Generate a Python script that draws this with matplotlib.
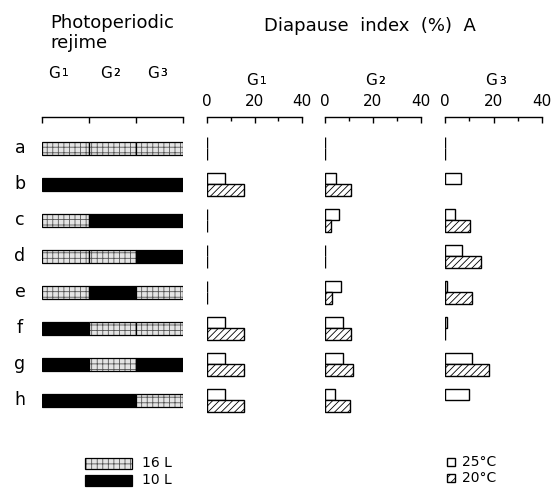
import numpy as np
import matplotlib
matplotlib.use("Agg")
import matplotlib.pyplot as plt
from matplotlib.patches import Rectangle

plt.rcParams['font.family'] = ['DejaVu Sans']
plt.rcParams['hatch.linewidth'] = 0.6

# ---------------- data ----------------
rows = ['a', 'b', 'c', 'd', 'e', 'f', 'g', 'h']
generations = ['1', '2', '3']
# photoperiod per generation: 'L' = 16L, 'D' = 10L
regime = [['L', 'L', 'L'],
          ['D', 'D', 'D'],
          ['L', 'D', 'D'],
          ['L', 'L', 'D'],
          ['L', 'D', 'L'],
          ['D', 'L', 'L'],
          ['D', 'L', 'D'],
          ['D', 'D', 'L']]
nan = np.nan
di25_G1 = [0, 7.5, 0, 0, 0, 7.5, 7.5, 7.5]
di20_G1 = [0, 15.5, 0, 0, 0, 15.5, 15.5, 15.5]
di25_G2 = [0, 4.5, 6, 0, 6.5, 7.5, 7.5, 4]
di20_G2 = [0, 11, 2.5, 0, 3, 11, 11.5, 10.5]
di25_G3 = [0, 6.5, 4, 7, 1, 1, 11, 10]
di20_G3 = [0, nan, 10.5, 15, 11, 0, 18, nan]
panels = [(di25_G1, di20_G1), (di25_G2, di20_G2), (di25_G3, di20_G3)]
xticks_major = [0, 20, 40]
xticks_minor = [10, 30]

W, H = 552, 488
fig = plt.figure(figsize=(W / 100, H / 100), dpi=100)

ROW0, ROWSTEP = 148, 36
Y0 = ROW0 - ROWSTEP / 2
Y1 = ROW0 + ROWSTEP * (len(rows) - 0.5)


def fx(x):
    return x / W


def fy(y):
    return 1 - y / H


def add_ax(x0, x1, y0=Y0, y1=Y1):
    return fig.add_axes([fx(x0), fy(y1), (x1 - x0) / W, (y1 - y0) / H])


def gtext(x, y, sub, size=11):
    t = fig.text(fx(x), fy(y), 'G', fontsize=size, ha='left', va='center')
    ann = plt.annotate(sub, xy=(1, 0), xycoords=t, xytext=(1.2, 1.5),
                       textcoords='offset points', fontsize=size * 0.7,
                       ha='left', va='bottom', annotation_clip=False)
    fig.add_artist(ann)
    return t


def bracket_axis(ax, offset_px):
    for s in ['left', 'right', 'bottom']:
        ax.spines[s].set_visible(False)
    ax.spines['top'].set_position(('outward', offset_px * 0.72))
    ax.spines['top'].set_linewidth(1.0)
    ax.xaxis.tick_top()
    ax.yaxis.set_visible(False)
    ax.set_facecolor('none')


stipple_face = '#e4e4e4'
stipple_hatch = '#555555'
bar_h = 13 / ROWSTEP
BRACKET_Y = 117
offset = Y0 - BRACKET_Y

# ---------------- photoperiod panel ----------------
axp = add_ax(42, 183)
axp.set_xlim(0, 3)
axp.set_ylim(len(rows) - 0.5, -0.5)
bracket_axis(axp, offset)
axp.set_xticks([0, 1, 2, 3])
axp.tick_params(axis='x', direction='in', length=4, width=1, labeltop=False)
for i, reg in enumerate(regime):
    for j, r in enumerate(reg):
        if r == 'L':
            axp.barh(i, 1, left=j, height=bar_h, color=stipple_face,
                     hatch='+++', edgecolor=stipple_hatch, linewidth=0)
            axp.barh(i, 1, left=j, height=bar_h, fill=False,
                     edgecolor='black', linewidth=0.9)
        else:
            axp.barh(i, 1, left=j, height=bar_h, color='black',
                     edgecolor='black', linewidth=0.9)
    fig.text(fx(20), fy(ROW0 + ROWSTEP * i), rows[i], fontsize=12.5,
             ha='center', va='center')

# ---------------- diapause panels ----------------
panel_x = [(207, 302), (325, 421), (445, 542)]
bh = 11.5 / ROWSTEP
for k, ((v25, v20), (x0, x1)) in enumerate(zip(panels, panel_x)):
    ax = add_ax(x0, x1)
    ax.set_xlim(0, 40)
    ax.set_ylim(len(rows) - 0.5, -0.5)
    bracket_axis(ax, offset)
    ax.set_xticks(xticks_major)
    ax.set_xticks(xticks_minor, minor=True)
    ax.tick_params(axis='x', which='major', direction='in', length=4,
                   width=1, labelsize=11, pad=6)
    ax.tick_params(axis='x', which='minor', direction='in', length=3,
                   width=1)
    y = np.arange(len(rows))
    for i in range(len(rows)):
        if not np.isnan(v25[i]):
            ax.barh(y[i] - bh / 2, v25[i], height=bh, color='white',
                    edgecolor='black', linewidth=1.0)
        if not np.isnan(v20[i]):
            ax.barh(y[i] + bh / 2, v20[i], height=bh, color='white',
                    edgecolor='black', linewidth=1.0, hatch='/////')
    gtext((x0 + x1) / 2 - 8, 81, generations[k])

# G labels over photoperiod panel
for j, xg in enumerate([48, 100, 147]):
    gtext(xg, 73, generations[j])

# ---------------- titles ----------------
fig.text(fx(50), fy(23), 'Photoperiodic', fontsize=13, ha='left', va='center')
fig.text(fx(50), fy(43), 'rejime', fontsize=13, ha='left', va='center')
fig.text(fx(264), fy(26), 'Diapause  index  (%)  A', fontsize=13,
         ha='left', va='center')

# ---------------- legends ----------------
lx0, lw_, lh = 85, 47, 11
ly1, ly2 = 463, 480
r1 = Rectangle((fx(lx0), fy(ly1 + lh / 2)), lw_ / W, lh / H,
               transform=fig.transFigure, facecolor=stipple_face,
               hatch='+++', edgecolor=stipple_hatch, linewidth=0)
r1b = Rectangle((fx(lx0), fy(ly1 + lh / 2)), lw_ / W, lh / H,
                transform=fig.transFigure, fill=False, edgecolor='black',
                linewidth=0.9)
r2 = Rectangle((fx(lx0), fy(ly2 + lh / 2)), lw_ / W, lh / H,
               transform=fig.transFigure, facecolor='black',
               edgecolor='black', linewidth=0.9)
for r in (r1, r1b, r2):
    fig.add_artist(r)
fig.text(fx(142), fy(ly1), '16 L', fontsize=10, ha='left', va='center')
fig.text(fx(142), fy(ly2), '10 L', fontsize=10, ha='left', va='center')

s = 8
ty1, ty2 = 462, 478
t1 = Rectangle((fx(447), fy(ty1 + s / 2)), s / W, s / H,
               transform=fig.transFigure, facecolor='white',
               edgecolor='black', linewidth=1.0)
t2 = Rectangle((fx(447), fy(ty2 + s / 2)), s / W, s / H,
               transform=fig.transFigure, facecolor='white',
               edgecolor='black', linewidth=1.0, hatch='////')
fig.add_artist(t1)
fig.add_artist(t2)
fig.text(fx(462), fy(ty1), '25°C', fontsize=10, ha='left', va='center')
fig.text(fx(462), fy(ty2), '20°C', fontsize=10, ha='left', va='center')

fig.savefig('out.png', dpi=100, facecolor='white')
